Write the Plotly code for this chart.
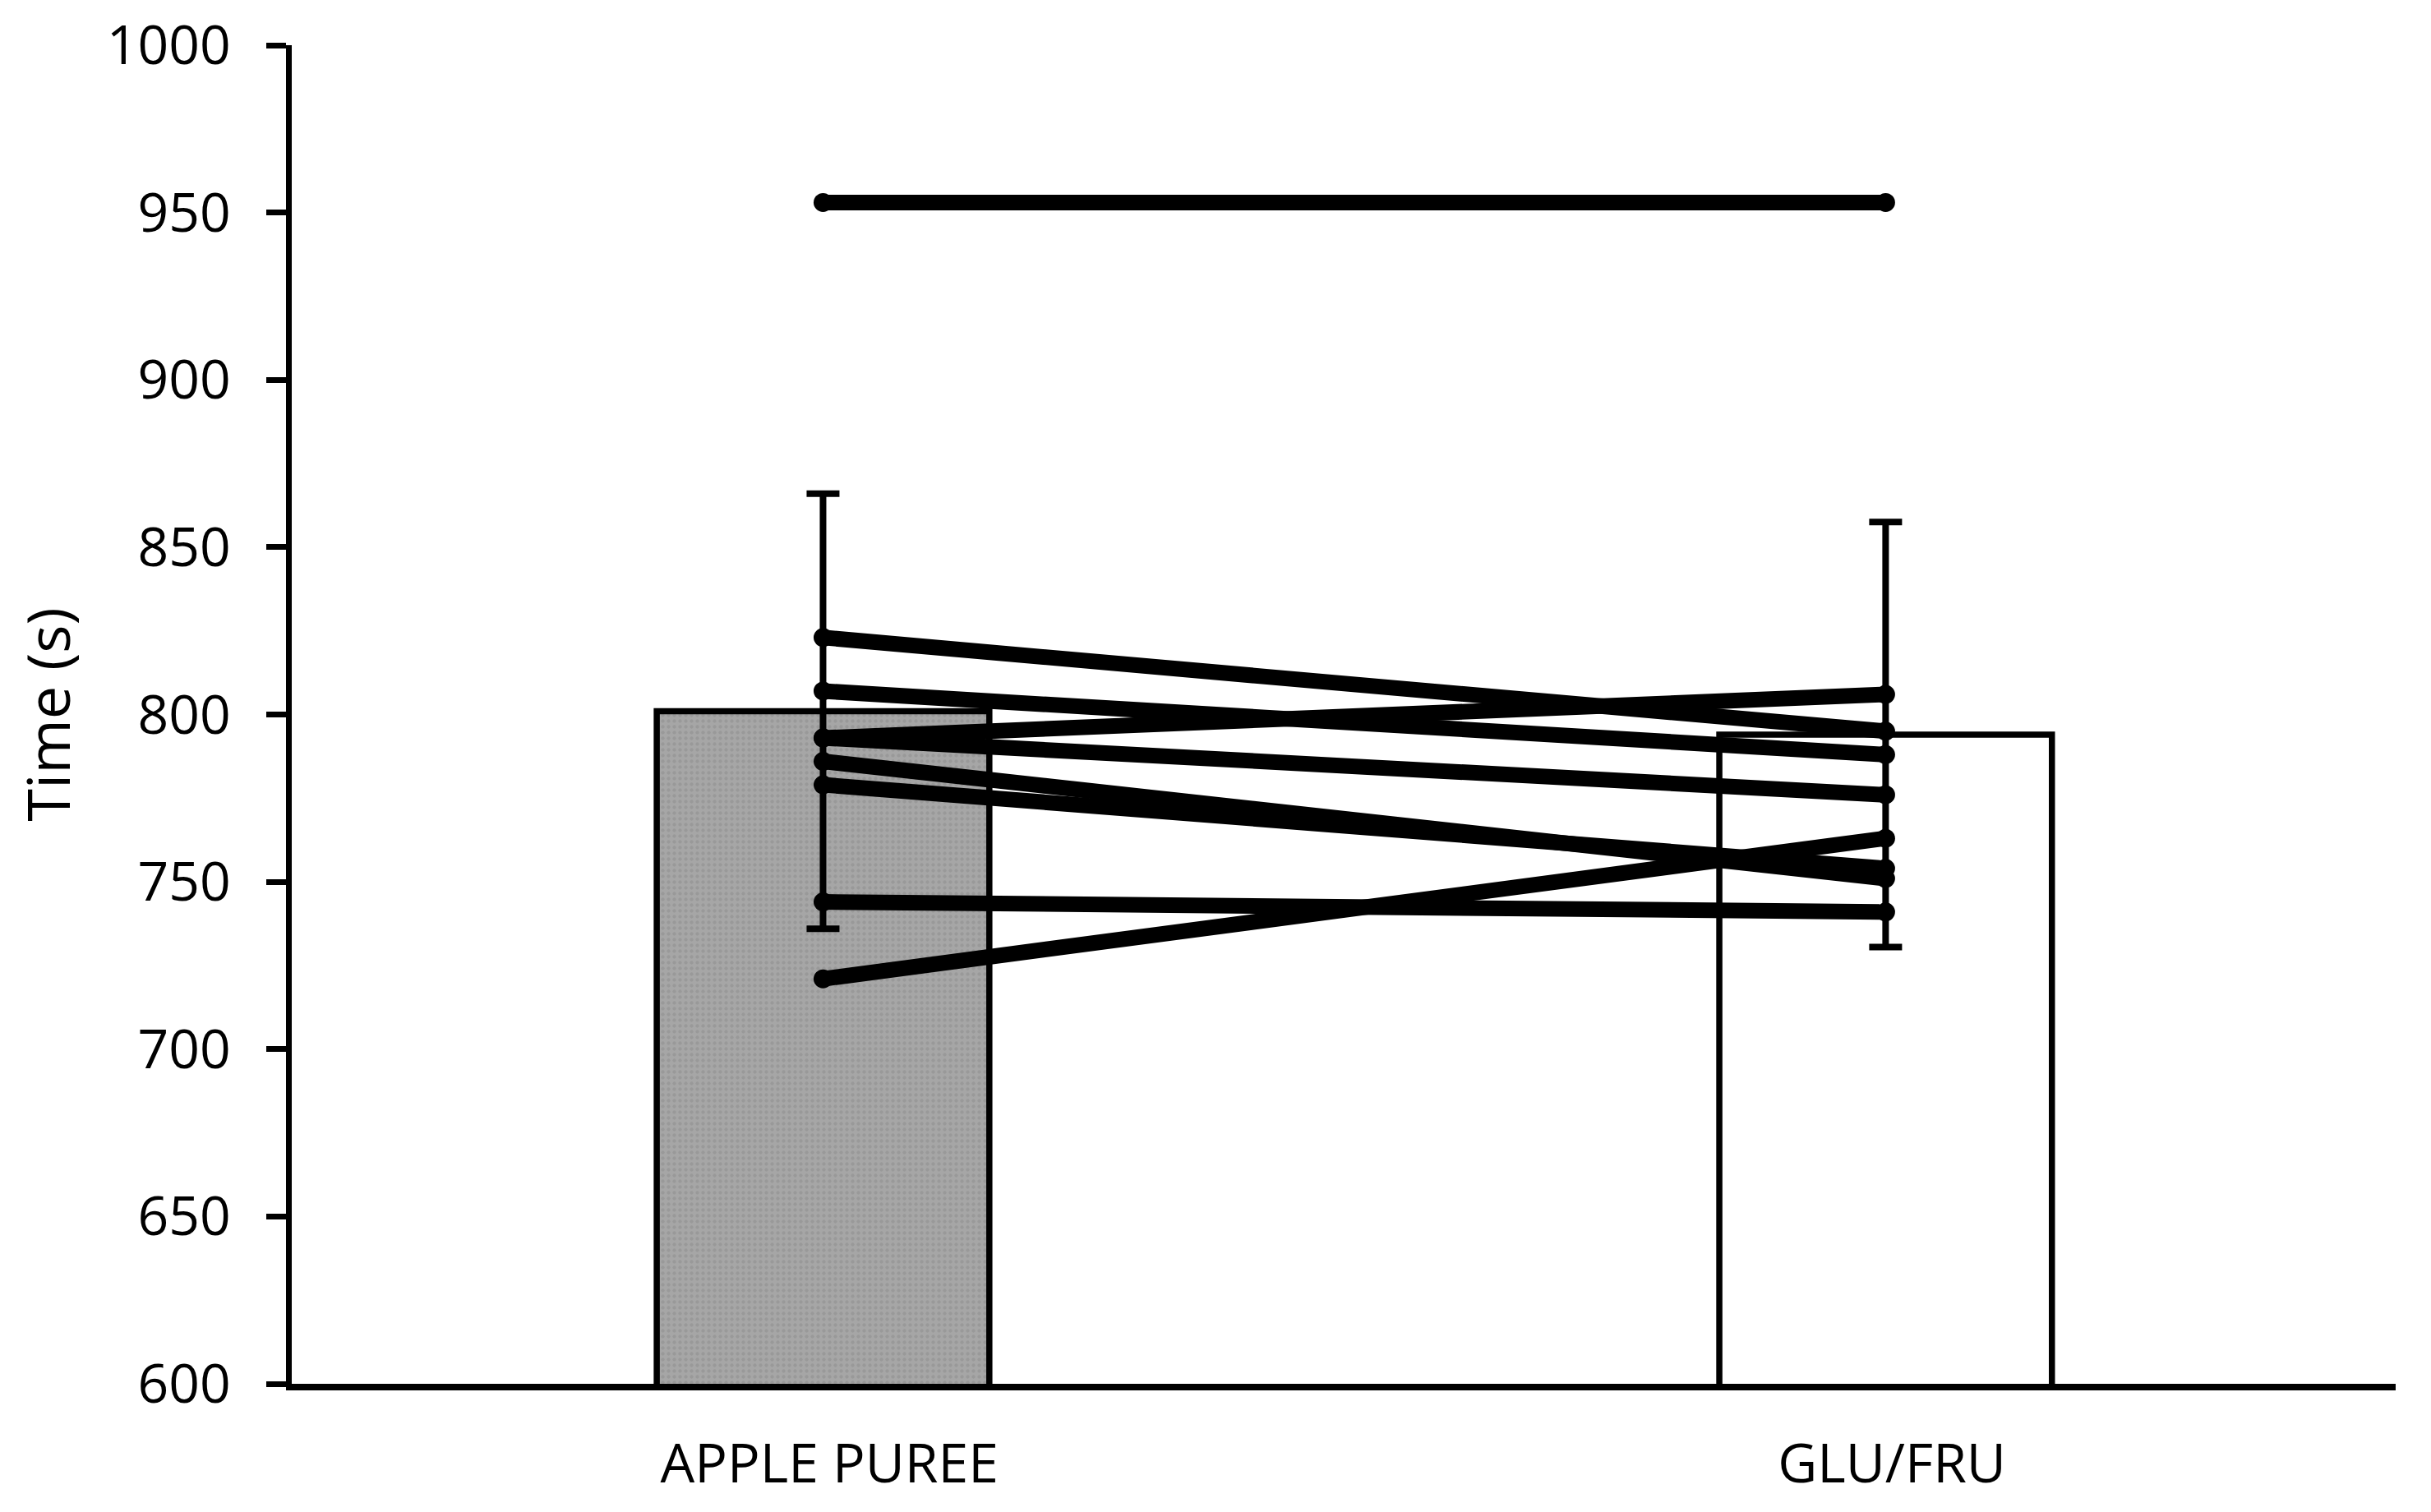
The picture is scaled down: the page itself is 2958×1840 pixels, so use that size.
import plotly.graph_objects as go

categories = ["APPLE PUREE", "GLU/FRU"]
mean_time = [801, 794]
sd_time = [65, 63.5]
apple_individual = [953, 823, 807, 793, 793, 786, 779, 744, 721]
glufru_individual = [953, 795, 788, 806, 776, 751, 754, 741, 763]
y_tick_values = [600, 650, 700, 750, 800, 850, 900, 950, 1000]

x_pos = [0, 1]
label_pos = [0.006, 1.006]
FONT = "Open Sans"

fig = go.Figure()

fig.add_trace(go.Bar(
    x=[x_pos[0]], y=[mean_time[0]], width=0.313,
    marker=dict(color="#a6a6a6", line=dict(color="black", width=7.5),
                pattern=dict(shape=".", fgcolor="#8c8c8c", bgcolor="#a6a6a6",
                             size=7, solidity=0.3)),
    error_y=dict(type="data", array=[sd_time[0]], color="black", thickness=8, width=20),
))
fig.add_trace(go.Bar(
    x=[x_pos[1]], y=[mean_time[1]], width=0.313,
    marker=dict(color="white", line=dict(color="black", width=7.5)),
    error_y=dict(type="data", array=[sd_time[1]], color="black", thickness=8, width=20),
))

for a, g in zip(apple_individual, glufru_individual):
    fig.add_trace(go.Scatter(
        x=x_pos, y=[a, g], mode="lines+markers",
        line=dict(color="black", width=19),
        marker=dict(color="black", size=23),
    ))

fig.update_layout(
    width=2958, height=1840,
    margin=dict(l=347, r=51, t=47, b=164, autoexpand=False),
    plot_bgcolor="white", paper_bgcolor="white",
    showlegend=False, barmode="overlay",
    font=dict(family=FONT, color="black"),
)
fig.update_xaxes(
    range=[-0.5, 1.48], tickvals=label_pos, ticktext=categories,
    showline=True, linecolor="black", linewidth=8,
    ticks="", showgrid=False, zeroline=False, automargin=False,
    tickfont=dict(family=FONT, size=66, color="black"),
    ticklabelstandoff=33,
)
fig.update_yaxes(
    range=[600, 1000], tickvals=y_tick_values,
    showline=True, linecolor="black", linewidth=7,
    ticks="outside", ticklen=24, tickwidth=7, tickcolor="black",
    showgrid=False, zeroline=False, automargin=False,
    tickfont=dict(family=FONT, size=66, color="black"),
    ticklabelstandoff=30, ticklabeloverflow="allow",
    title=dict(text="Time (s)", font=dict(family=FONT, size=72, color="black"), standoff=30),
)

fig.write_html("out.html")
